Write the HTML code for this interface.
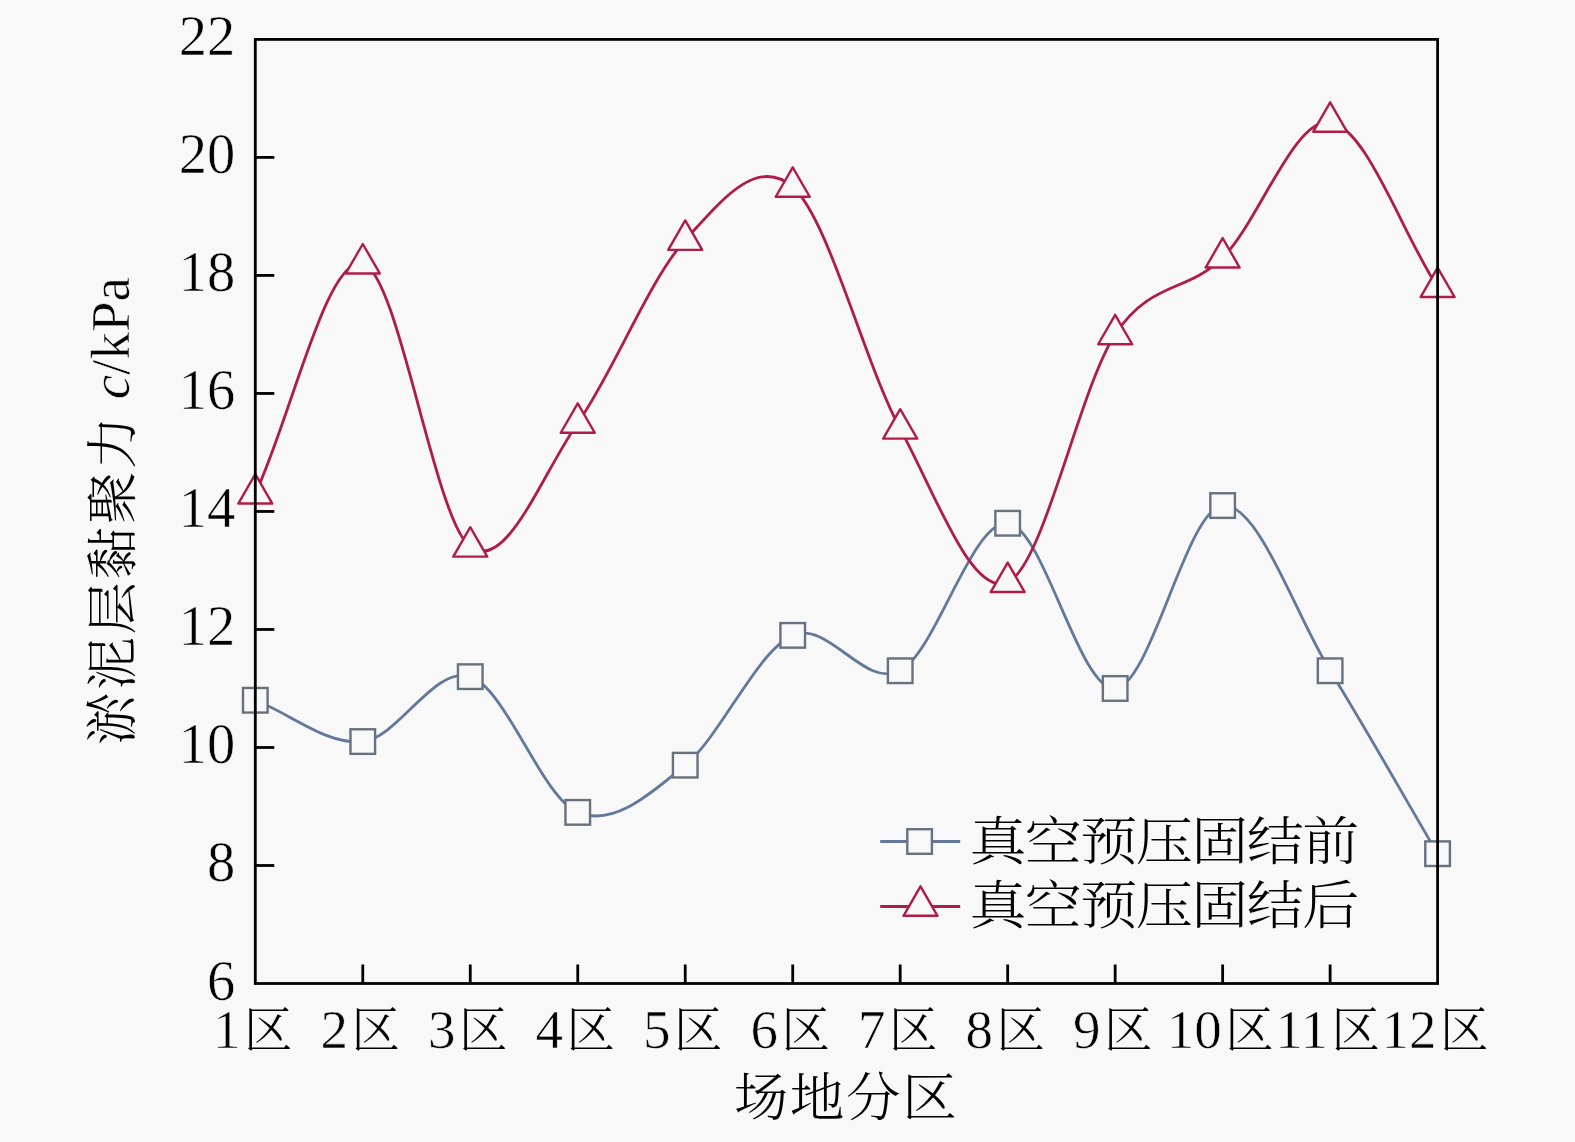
<!DOCTYPE html>
<html><head><meta charset="utf-8"><title>chart</title>
<style>
html,body{margin:0;padding:0;background:#f8f8f8;}
svg{display:block;}
.l{font-family:"Liberation Serif","Noto Serif CJK SC",serif;font-size:55px;fill:#000;stroke:#f8f8f8;stroke-width:0.6px;}
.c{stroke:none;font-family:"Liberation Serif","Noto Serif CJK SC",serif;font-size:50px;font-weight:300;}
</style>
</head><body>
<svg width="1575" height="1142" viewBox="0 0 1575 1142">
<rect x="0" y="0" width="1575" height="1142" fill="#f8f8f8"/>
<path d="M255.30,700.27 C291.13,714.04 326.95,745.51 362.78,741.57 C398.61,737.64 434.44,664.87 470.26,676.67 C506.09,688.47 541.92,797.63 577.75,812.38 C613.57,827.13 649.40,794.68 685.23,765.18 C721.05,735.67 756.88,651.10 792.71,635.36 C828.54,619.63 864.36,689.45 900.19,670.77 C936.02,652.08 971.85,520.30 1007.67,523.25 C1043.50,526.20 1079.33,691.42 1115.15,688.47 C1150.98,685.52 1186.81,508.50 1222.64,505.55 C1258.46,502.60 1294.29,612.74 1330.12,670.77 C1365.95,728.79 1401.77,792.71 1437.60,853.69" fill="none" stroke="#62799a" stroke-width="2.8"/>
<rect x="243.00" y="687.97" width="24.6" height="24.6" fill="#f8f8f8" stroke="#68727e" stroke-width="2.4"/>
<rect x="350.48" y="729.27" width="24.6" height="24.6" fill="#f8f8f8" stroke="#68727e" stroke-width="2.4"/>
<rect x="457.96" y="664.37" width="24.6" height="24.6" fill="#f8f8f8" stroke="#68727e" stroke-width="2.4"/>
<rect x="565.45" y="800.08" width="24.6" height="24.6" fill="#f8f8f8" stroke="#68727e" stroke-width="2.4"/>
<rect x="672.93" y="752.88" width="24.6" height="24.6" fill="#f8f8f8" stroke="#68727e" stroke-width="2.4"/>
<rect x="780.41" y="623.06" width="24.6" height="24.6" fill="#f8f8f8" stroke="#68727e" stroke-width="2.4"/>
<rect x="887.89" y="658.47" width="24.6" height="24.6" fill="#f8f8f8" stroke="#68727e" stroke-width="2.4"/>
<rect x="995.37" y="510.95" width="24.6" height="24.6" fill="#f8f8f8" stroke="#68727e" stroke-width="2.4"/>
<rect x="1102.85" y="676.17" width="24.6" height="24.6" fill="#f8f8f8" stroke="#68727e" stroke-width="2.4"/>
<rect x="1210.34" y="493.25" width="24.6" height="24.6" fill="#f8f8f8" stroke="#68727e" stroke-width="2.4"/>
<rect x="1317.82" y="658.47" width="24.6" height="24.6" fill="#f8f8f8" stroke="#68727e" stroke-width="2.4"/>
<rect x="1425.30" y="841.39" width="24.6" height="24.6" fill="#f8f8f8" stroke="#68727e" stroke-width="2.4"/>
<path d="M255.30,493.75 C291.13,417.04 326.95,254.77 362.78,263.62 C398.61,272.47 434.44,520.30 470.26,546.85 C506.09,573.41 541.92,474.08 577.75,422.94 C613.57,371.80 649.40,279.36 685.23,240.02 C721.05,200.68 756.88,155.45 792.71,186.92 C828.54,218.39 864.36,362.95 900.19,428.84 C936.02,494.73 971.85,597.99 1007.67,582.26 C1043.50,566.52 1079.33,388.52 1115.15,334.43 C1150.98,280.34 1186.81,293.13 1222.64,257.72 C1258.46,222.32 1294.29,117.09 1330.12,122.01 C1365.95,126.93 1401.77,232.15 1437.60,287.23" fill="none" stroke="#b01c4a" stroke-width="2.8"/>
<polygon points="255.30,474.12 238.30,503.56 272.30,503.56" fill="#f8f8f8" stroke="#b01c4a" stroke-width="2.4" stroke-linejoin="round"/>
<polygon points="362.78,243.99 345.78,273.44 379.78,273.44" fill="#f8f8f8" stroke="#b01c4a" stroke-width="2.4" stroke-linejoin="round"/>
<polygon points="470.26,527.22 453.26,556.67 487.26,556.67" fill="#f8f8f8" stroke="#b01c4a" stroke-width="2.4" stroke-linejoin="round"/>
<polygon points="577.75,403.31 560.75,432.76 594.75,432.76" fill="#f8f8f8" stroke="#b01c4a" stroke-width="2.4" stroke-linejoin="round"/>
<polygon points="685.23,220.39 668.23,249.84 702.23,249.84" fill="#f8f8f8" stroke="#b01c4a" stroke-width="2.4" stroke-linejoin="round"/>
<polygon points="792.71,167.29 775.71,196.73 809.71,196.73" fill="#f8f8f8" stroke="#b01c4a" stroke-width="2.4" stroke-linejoin="round"/>
<polygon points="900.19,409.21 883.19,438.66 917.19,438.66" fill="#f8f8f8" stroke="#b01c4a" stroke-width="2.4" stroke-linejoin="round"/>
<polygon points="1007.67,562.63 990.67,592.07 1024.67,592.07" fill="#f8f8f8" stroke="#b01c4a" stroke-width="2.4" stroke-linejoin="round"/>
<polygon points="1115.15,314.80 1098.15,344.25 1132.15,344.25" fill="#f8f8f8" stroke="#b01c4a" stroke-width="2.4" stroke-linejoin="round"/>
<polygon points="1222.64,238.09 1205.64,267.54 1239.64,267.54" fill="#f8f8f8" stroke="#b01c4a" stroke-width="2.4" stroke-linejoin="round"/>
<polygon points="1330.12,102.38 1313.12,131.82 1347.12,131.82" fill="#f8f8f8" stroke="#b01c4a" stroke-width="2.4" stroke-linejoin="round"/>
<polygon points="1437.60,267.60 1420.60,297.04 1454.60,297.04" fill="#f8f8f8" stroke="#b01c4a" stroke-width="2.4" stroke-linejoin="round"/>
<rect x="255.30" y="39.40" width="1182.30" height="944.10" fill="none" stroke="#000" stroke-width="2.8"/>
<line x1="255.30" y1="865.49" x2="274.30" y2="865.49" stroke="#000" stroke-width="2.8"/>
<line x1="255.30" y1="747.48" x2="274.30" y2="747.48" stroke="#000" stroke-width="2.8"/>
<line x1="255.30" y1="629.46" x2="274.30" y2="629.46" stroke="#000" stroke-width="2.8"/>
<line x1="255.30" y1="511.45" x2="274.30" y2="511.45" stroke="#000" stroke-width="2.8"/>
<line x1="255.30" y1="393.44" x2="274.30" y2="393.44" stroke="#000" stroke-width="2.8"/>
<line x1="255.30" y1="275.42" x2="274.30" y2="275.42" stroke="#000" stroke-width="2.8"/>
<line x1="255.30" y1="157.41" x2="274.30" y2="157.41" stroke="#000" stroke-width="2.8"/>
<line x1="362.78" y1="983.50" x2="362.78" y2="964.50" stroke="#000" stroke-width="2.8"/>
<line x1="470.26" y1="983.50" x2="470.26" y2="964.50" stroke="#000" stroke-width="2.8"/>
<line x1="577.75" y1="983.50" x2="577.75" y2="964.50" stroke="#000" stroke-width="2.8"/>
<line x1="685.23" y1="983.50" x2="685.23" y2="964.50" stroke="#000" stroke-width="2.8"/>
<line x1="792.71" y1="983.50" x2="792.71" y2="964.50" stroke="#000" stroke-width="2.8"/>
<line x1="900.19" y1="983.50" x2="900.19" y2="964.50" stroke="#000" stroke-width="2.8"/>
<line x1="1007.67" y1="983.50" x2="1007.67" y2="964.50" stroke="#000" stroke-width="2.8"/>
<line x1="1115.15" y1="983.50" x2="1115.15" y2="964.50" stroke="#000" stroke-width="2.8"/>
<line x1="1222.64" y1="983.50" x2="1222.64" y2="964.50" stroke="#000" stroke-width="2.8"/>
<line x1="1330.12" y1="983.50" x2="1330.12" y2="964.50" stroke="#000" stroke-width="2.8"/>
<text class="l" x="235.2" y="999.50" text-anchor="end" style="font-size:56.5px">6</text>
<text class="l" x="235.2" y="881.49" text-anchor="end" style="font-size:56.5px">8</text>
<text class="l" x="235.2" y="763.48" text-anchor="end" style="font-size:56.5px">10</text>
<text class="l" x="235.2" y="645.46" text-anchor="end" style="font-size:56.5px">12</text>
<text class="l" x="235.2" y="527.45" text-anchor="end" style="font-size:56.5px">14</text>
<text class="l" x="235.2" y="409.44" text-anchor="end" style="font-size:56.5px">16</text>
<text class="l" x="235.2" y="291.42" text-anchor="end" style="font-size:56.5px">18</text>
<text class="l" x="235.2" y="173.41" text-anchor="end" style="font-size:56.5px">20</text>
<text class="l" x="235.2" y="55.40" text-anchor="end" style="font-size:56.5px">22</text>
<text class="l" x="252.80" y="1047.5" text-anchor="middle">1<tspan class="c" dx="3.5" dy="-1" style="font-size:48.5px">区</tspan></text>
<text class="l" x="360.28" y="1047.5" text-anchor="middle">2<tspan class="c" dx="3.5" dy="-1" style="font-size:48.5px">区</tspan></text>
<text class="l" x="467.76" y="1047.5" text-anchor="middle">3<tspan class="c" dx="3.5" dy="-1" style="font-size:48.5px">区</tspan></text>
<text class="l" x="575.25" y="1047.5" text-anchor="middle">4<tspan class="c" dx="3.5" dy="-1" style="font-size:48.5px">区</tspan></text>
<text class="l" x="682.73" y="1047.5" text-anchor="middle">5<tspan class="c" dx="3.5" dy="-1" style="font-size:48.5px">区</tspan></text>
<text class="l" x="790.21" y="1047.5" text-anchor="middle">6<tspan class="c" dx="3.5" dy="-1" style="font-size:48.5px">区</tspan></text>
<text class="l" x="897.69" y="1047.5" text-anchor="middle">7<tspan class="c" dx="3.5" dy="-1" style="font-size:48.5px">区</tspan></text>
<text class="l" x="1005.17" y="1047.5" text-anchor="middle">8<tspan class="c" dx="3.5" dy="-1" style="font-size:48.5px">区</tspan></text>
<text class="l" x="1112.65" y="1047.5" text-anchor="middle">9<tspan class="c" dx="3.5" dy="-1" style="font-size:48.5px">区</tspan></text>
<text class="l" x="1220.14" y="1047.5" text-anchor="middle">10<tspan class="c" dx="3.5" dy="-1" style="font-size:48.5px">区</tspan></text>
<text class="l" x="1327.62" y="1047.5" text-anchor="middle">11<tspan class="c" dx="3.5" dy="-1" style="font-size:48.5px">区</tspan></text>
<text class="l" x="1435.10" y="1047.5" text-anchor="middle">12<tspan class="c" dx="3.5" dy="-1" style="font-size:48.5px">区</tspan></text>
<text class="c" transform="translate(733.7,1115.8) scale(1.04,1)" style="font-size:52.5px;letter-spacing:1.5px">场地分区</text>
<text class="l" transform="translate(129.3,745) rotate(-90)" text-anchor="start"><tspan class="c" dy="1.2" style="font-size:52.5px;letter-spacing:2.7px">淤泥层黏聚力</tspan><tspan dx="14.5" dy="-1.2" font-style="italic">c</tspan>/kPa</text>
<line x1="880.2" y1="841.5" x2="960.2" y2="841.5" stroke="#62799a" stroke-width="2.8"/>
<rect x="907.30" y="829.20" width="24.6" height="24.6" fill="#f8f8f8" stroke="#68727e" stroke-width="2.4"/>
<line x1="880.2" y1="906.5" x2="960.2" y2="906.5" stroke="#b01c4a" stroke-width="2.8"/>
<polygon points="920.50,886.37 903.50,915.81 937.50,915.81" fill="#f8f8f8" stroke="#b01c4a" stroke-width="2.4" stroke-linejoin="round"/>
<text class="c" transform="translate(969.4,859.5) scale(1.088,1)" style="font-size:52.5px;letter-spacing:-1.5px">真空预压固结前</text>
<text class="c" transform="translate(969.4,924) scale(1.088,1)" style="font-size:52.5px;letter-spacing:-1.5px">真空预压固结后</text>
</svg>
</body></html>
